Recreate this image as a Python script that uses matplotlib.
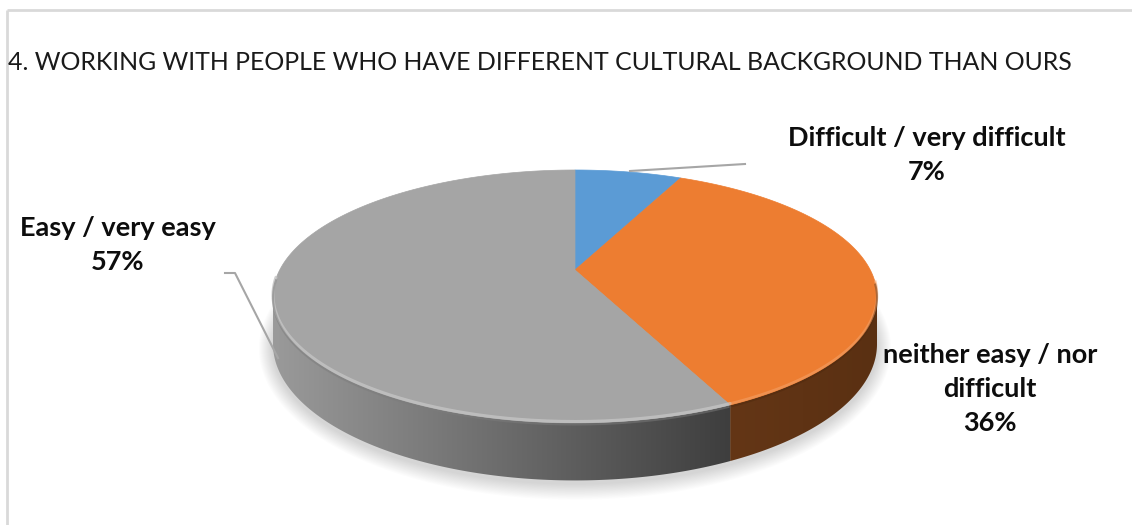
import numpy as np
import matplotlib
matplotlib.use("Agg")
import matplotlib.pyplot as plt
from matplotlib.patches import Polygon
from matplotlib.colors import to_rgb

# ---- data -------------------------------------------------------------
title = "4. WORKING WITH PEOPLE WHO HAVE DIFFERENT CULTURAL BACKGROUND THAN OURS"
label_lines = [
    ["Difficult / very difficult"],
    ["neither easy / nor", "difficult"],
    ["Easy / very easy"],
]
shares = [7, 36, 57]
top_colors = ["#5b9bd5", "#ed7d31", "#a5a5a5"]
side_colors = [("#3f6f9c", "#2f5578"), ("#643616", "#5a3012"), ("#9a9a9a", "#3e3e3e")]

# ---- canvas -----------------------------------------------------------
W, H = 1132, 525
fig = plt.figure(figsize=(W / 100, H / 100), dpi=100)
ax = fig.add_axes([0, 0, 1, 1])
ax.set_xlim(0, W)
ax.set_ylim(H, 0)
ax.axis("off")

FONT = "Lato"

# chart frame (top and left edges visible)
ax.plot([7, W], [10, 10], color="#d9d9d9", lw=2, solid_capstyle="butt")
ax.plot([7, 7], [10, H], color="#d9d9d9", lw=2, solid_capstyle="butt")

ax.text(8, 62, title, fontsize=17.9, family=FONT, color="#1a1a1a",
        ha="left", va="center")

# ---- 3D pie projection --------------------------------------------------
cx, cy = 575.0, 270.0          # projected pie centre
A, B, K = 120.95, 295.3, 0.2095  # vertical / horizontal radius, perspective
DEPTH = 45.4


def proj(phi_deg):
    """angle clockwise from 12 o'clock -> screen x, y and perspective weight"""
    phi = np.radians(phi_deg)
    x = np.sin(phi)
    z = np.cos(phi)
    w = 1 + K * z
    return cx + B * x / w, cy - A * z / w, w


total = float(sum(shares))
bounds = np.concatenate([[0], np.cumsum(shares)]) * 360.0 / total
vis0 = np.degrees(np.arccos(-K))
vis1 = 360.0 - vis0

# soft shadow under the pie
phis = np.linspace(0, 360, 400)
sx, sy, sw = proj(phis)
by = sy + DEPTH / sw
bx0, by0 = sx.mean(), by.mean()
for r in range(14, 0, -1):
    fx = 1 + r / 300.0
    fy = 1 + r / 130.0
    pts = np.column_stack([bx0 + (sx - bx0) * fx, by0 + 3 + (by - by0) * fy])
    ax.add_patch(Polygon(pts, closed=True, facecolor="#000000",
                         alpha=0.012, edgecolor="none", zorder=1))

# side walls, shaded from left to right
for i in range(len(shares)):
    a0, a1 = max(bounds[i], vis0), min(bounds[i + 1], vis1)
    if a0 >= a1:
        continue
    ph = np.linspace(a0, a1, 200)
    tx, ty, tw = proj(ph)
    bty = ty + DEPTH / tw
    pts = np.vstack([np.column_stack([tx, ty]),
                     np.column_stack([tx[::-1], bty[::-1]])])
    poly = Polygon(pts, closed=True, facecolor="none", edgecolor="none", zorder=2)
    ax.add_patch(poly)
    c0 = np.array(to_rgb(side_colors[i][0]))
    c1 = np.array(to_rgb(side_colors[i][1]))
    xmin, xmax = tx.min(), tx.max()
    t = np.linspace(0, 1, 256)[:, None]
    grad = (c0 * (1 - t) + c1 * t)[None, :, :]
    im = ax.imshow(grad, extent=[xmin, xmax, bty.max() + 2, ty.min() - 2],
                   aspect="auto", zorder=2, interpolation="bilinear")
    im.set_clip_path(poly)

# top faces
for i in range(len(shares)):
    ph = np.linspace(bounds[i], bounds[i + 1], 200)
    tx, ty, _ = proj(ph)
    pts = np.vstack([[cx, cy], np.column_stack([tx, ty])])
    ax.add_patch(Polygon(pts, closed=True, facecolor=top_colors[i],
                         edgecolor=top_colors[i], lw=0.5, zorder=3))

# bevel highlight along the front rim
ph = np.linspace(bounds[2], vis1 + 8, 200)
tx, ty, _ = proj(ph)
ax.plot(tx, ty - 1.5, color="#c4c4c4", lw=2.2, alpha=0.8, zorder=4,
        solid_capstyle="round")
ax.plot(tx, ty + 1.5, color="#7c7c7c", lw=1.5, alpha=0.5, zorder=4)
ph = np.linspace(vis0 - 6, bounds[2], 120)
tx, ty, _ = proj(ph)
ax.plot(tx, ty - 1.5, color="#f4a36a", lw=1.8, alpha=0.55, zorder=4)
ax.plot(tx, ty + 1.5, color="#4a260c", lw=1.5, alpha=0.4, zorder=4)

# ---- labels -----------------------------------------------------------
label_pos = [(927, 138), (990, 355), (118, 228)]
LINE_STEP = 34
for i, lines in enumerate(label_lines):
    x0, y0 = label_pos[i]
    for j, s in enumerate(lines + [f"{shares[i]}%"]):
        ax.text(x0, y0 + j * LINE_STEP, s, fontsize=19.5, family=FONT,
                weight="bold", color="#0d0d0d", ha="center", va="center")

# leader lines
ax.plot([630, 745], [171, 164], color="#a6a6a6", lw=1.5, zorder=5)
ax.plot([225, 235, 278], [273, 273, 358], color="#a6a6a6", lw=1.5, zorder=5)

fig.savefig("out.png", dpi=100)
